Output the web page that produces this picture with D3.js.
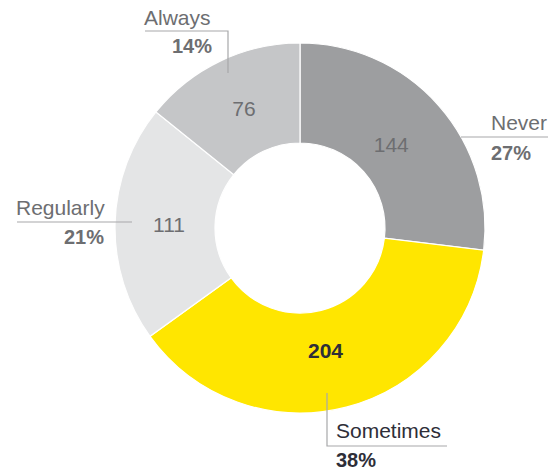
<!DOCTYPE html>
<html>
<head>
<meta charset="utf-8">
<script src="https://cdn.jsdelivr.net/npm/d3@7/dist/d3.min.js"></script>
<style>
  html, body { margin: 0; padding: 0; background: #fff; }
  svg { display: block; font-family: "Liberation Sans", Arial, Helvetica, sans-serif; }
</style>
</head>
<body>
<svg id="chart" width="552" height="473"></svg>
<script>
// Survey answers, clockwise from 12 o'clock
const categories = ["Never", "Sometimes", "Regularly", "Always"];
const counts = [144, 204, 111, 76];
const percentLabels = ["27%", "38%", "21%", "14%"];

const fills = ["#9d9ea0", "#ffe600", "#e4e5e6", "#c5c6c8"];
const valueInk = ["#6d6e71", "#2e2e38", "#6d6e71", "#6d6e71"];
const labelInk = ["#6d6e71", "#2e2e38", "#6d6e71", "#6d6e71"];

const svg = d3.select("#chart");
const cx = 300, cy = 228, rOuter = 185, rInner = 85;
const fontSize = 21;

const pie = d3.pie().sort(null).value(d => d)(counts);
const arc = d3.arc().innerRadius(rInner).outerRadius(rOuter);
const valueArc = d3.arc().innerRadius(130).outerRadius(130);

const g = svg.append("g").attr("transform", `translate(${cx},${cy})`);

g.selectAll("path.slice")
  .data(pie)
  .join("path")
  .attr("class", "slice")
  .attr("d", arc)
  .attr("fill", (d, i) => fills[i])
  .attr("stroke", "#fff")
  .attr("stroke-width", 1.2);

// counts inside the ring
const valueNudge = [[-6, 3], [-7, -3], [-1, 0], [0, -2]];
g.selectAll("text.value")
  .data(pie)
  .join("text")
  .attr("class", "value")
  .attr("x", (d, i) => valueArc.centroid(d)[0] + valueNudge[i][0])
  .attr("y", (d, i) => valueArc.centroid(d)[1] + valueNudge[i][1])
  .attr("dy", "0.35em")
  .attr("text-anchor", "middle")
  .attr("font-size", fontSize)
  .attr("font-weight", (d, i) => i === 1 ? 700 : 400)
  .attr("fill", (d, i) => valueInk[i])
  .text(d => d.data);

// outside callouts: leader path plus category name and share
const callouts = [
  { // Never
    path: [[461, 137], [548, 137]],
    name: [491, 130, "start"], pct: [491, 160, "start"]
  },
  { // Sometimes
    path: [[327, 393], [327, 446], [447, 446]],
    name: [336, 438, "start"], pct: [336, 467, "start"]
  },
  { // Regularly
    path: [[17, 222], [132, 222]],
    name: [16, 215, "start"], pct: [104, 244, "end"]
  },
  { // Always
    path: [[145, 31], [228, 31], [228, 73]],
    name: [144, 25, "start"], pct: [212, 53, "end"]
  }
];

const line = d3.line();
const co = svg.append("g");
callouts.forEach((c, i) => {
  co.append("path")
    .attr("d", line(c.path))
    .attr("fill", "none")
    .attr("stroke", "#a7a8aa")
    .attr("stroke-width", 1.2);
  co.append("text")
    .attr("x", c.name[0]).attr("y", c.name[1])
    .attr("text-anchor", c.name[2])
    .attr("font-size", fontSize)
    .attr("fill", labelInk[i])
    .text(categories[i]);
  co.append("text")
    .attr("x", c.pct[0]).attr("y", c.pct[1])
    .attr("text-anchor", c.pct[2])
    .attr("font-size", fontSize - 1)
    .attr("font-weight", 700)
    .attr("fill", labelInk[i])
    .text(percentLabels[i]);
});
</script>
</body>
</html>
